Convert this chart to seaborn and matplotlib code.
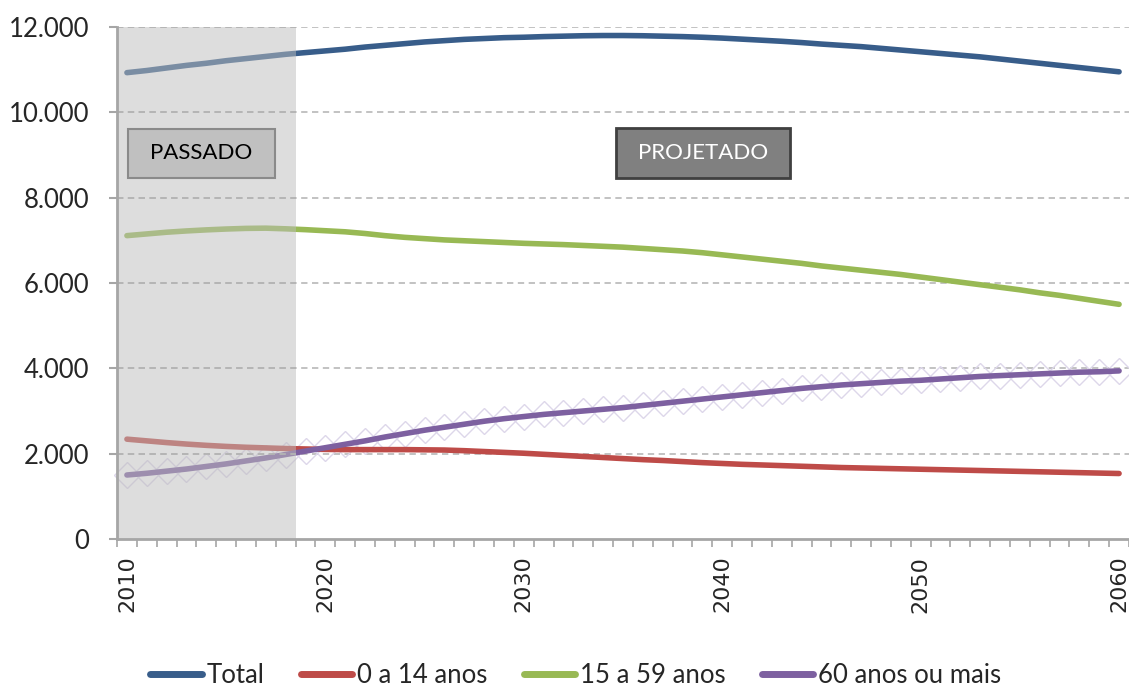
import numpy as np
import pandas as pd
import matplotlib
matplotlib.use("Agg")
import matplotlib.pyplot as plt
from matplotlib.patches import Rectangle
from matplotlib.ticker import FuncFormatter, FixedLocator
from matplotlib.lines import Line2D
import seaborn as sns

# ---------------- data ----------------
years = list(range(2010, 2061))

total = [10930, 10980, 11040, 11100, 11150, 11210, 11260, 11310, 11360, 11400,
         11440, 11480, 11530, 11570, 11610, 11650, 11680, 11710, 11730, 11750,
         11760, 11775, 11785, 11795, 11800, 11800, 11795, 11785, 11775, 11760,
         11740, 11715, 11690, 11665, 11635, 11600, 11570, 11540, 11500, 11460,
         11420, 11380, 11340, 11300, 11250, 11200, 11150, 11100, 11050, 11000,
         10950]

age_0_14 = [2340, 2300, 2260, 2225, 2195, 2170, 2150, 2135, 2120, 2110,
            2100, 2095, 2095, 2095, 2095, 2090, 2085, 2070, 2050, 2030,
            2010, 1985, 1960, 1935, 1910, 1885, 1860, 1840, 1815, 1790,
            1770, 1750, 1735, 1720, 1705, 1690, 1675, 1665, 1655, 1645,
            1635, 1625, 1615, 1605, 1595, 1585, 1575, 1565, 1555, 1545,
            1535]

age_15_59 = [7110, 7150, 7190, 7220, 7245, 7265, 7280, 7285, 7270, 7250,
             7225, 7200, 7160, 7110, 7070, 7040, 7010, 6990, 6970, 6950,
             6930, 6915, 6900, 6880, 6860, 6840, 6810, 6780, 6750, 6710,
             6660, 6610, 6560, 6510, 6460, 6400, 6350, 6300, 6250, 6200,
             6140, 6080, 6020, 5960, 5900, 5840, 5770, 5710, 5640, 5570,
             5500]

age_60_plus = [1500, 1540, 1590, 1640, 1700, 1760, 1830, 1900, 1980, 2060,
               2140, 2220, 2300, 2390, 2470, 2550, 2620, 2690, 2760, 2820,
               2870, 2920, 2960, 3000, 3040, 3080, 3130, 3180, 3230, 3280,
               3330, 3380, 3430, 3480, 3530, 3570, 3610, 3640, 3670, 3700,
               3720, 3750, 3780, 3810, 3830, 3850, 3870, 3890, 3910, 3920,
               3940]

series_names = ["Total", "0 a 14 anos", "15 a 59 anos", "60 anos ou mais"]
series_colors = ["#385D8A", "#BE4B48", "#98B954", "#7D60A0"]
x_tick_labels = ["2010", "2020", "2030", "2040", "2050", "2060"]
y_ticks = [0, 2000, 4000, 6000, 8000, 10000, 12000]
past_end_year = 2018
label_past = "PASSADO"
label_proj = "PROJETADO"

df = pd.DataFrame({
    "Ano": years * 4,
    "Valor": total + age_0_14 + age_15_59 + age_60_plus,
    "Serie": sum([[n] * len(years) for n in series_names], []),
})

# ---------------- style ----------------
sns.set_theme(style="white")
plt.rcParams["font.family"] = ["Lato", "DejaVu Sans"]

fig = plt.figure(figsize=(11.29, 6.86), dpi=100)
ax = fig.add_axes([117 / 1129, 147 / 686, 1012 / 1129, 512 / 686])

# faint diamond series behind the 60+ line
ax.plot(years, age_60_plus, linestyle="none", marker="D", ms=13,
        mfc="none", mec="#ddd7ea", mew=1.0, zorder=1.2, clip_on=False)

sns.lineplot(data=df, x="Ano", y="Valor", hue="Serie", hue_order=series_names,
             palette=series_colors, linewidth=4.0, ax=ax, legend=False,
             solid_capstyle="round", zorder=2)

ax.set_xlim(2009.5, 2060.5)
ax.set_ylim(0, 12000)

# background grid
for yv in y_ticks[1:]:
    ax.axhline(yv, color="#bdbdbd", lw=1.3, ls=(0, (3.5, 2.5)), zorder=0.5)

# shaded "past" region (over the lines, lightening them)
ax.axvspan(2009.5, past_end_year + 0.5, color="#bdbdbd", alpha=0.5, lw=0, zorder=3)
frac = (past_end_year + 0.5 - 2009.5) / 51
for yv in y_ticks[1:]:
    ax.axhline(yv, xmin=0, xmax=frac, color="#b4b4b4", lw=1.3,
               ls=(0, (3.5, 2.5)), zorder=3.2)

# boxes
ax.add_patch(Rectangle((0.0109, 0.705), 0.1452, 0.096, transform=ax.transAxes,
                       facecolor="#c0c0c0", edgecolor="#8a8a8a", lw=1.5, zorder=4))
ax.text(0.0835, 0.753, label_past, transform=ax.transAxes, ha="center",
        va="center", fontsize=16, color="black", zorder=5)
ax.add_patch(Rectangle((0.4931, 0.705), 0.1719, 0.098, transform=ax.transAxes,
                       facecolor="#808080", edgecolor="#404040", lw=2, zorder=4))
ax.text(0.579, 0.754, label_proj, transform=ax.transAxes, ha="center",
        va="center", fontsize=16, color="white", zorder=5)

# axes styling
for s in ["top", "right"]:
    ax.spines[s].set_visible(False)
for s in ["left", "bottom"]:
    ax.spines[s].set_color("#a6a6a6")
    ax.spines[s].set_linewidth(2)
    ax.spines[s].set_zorder(6)

ax.yaxis.set_major_locator(FixedLocator(y_ticks))
ax.yaxis.set_major_formatter(FuncFormatter(lambda v, p: f"{int(v):,}".replace(",", ".")))
ax.tick_params(axis="y", which="major", direction="out", length=6, width=1.5,
               color="#a6a6a6", labelsize=18.5, pad=14, left=True)

ax.xaxis.set_major_locator(FixedLocator([int(t) for t in x_tick_labels]))
ax.set_xticklabels(x_tick_labels, rotation=90, fontsize=16,
                   family=["DejaVu Sans"])
ax.xaxis.set_minor_locator(FixedLocator([2009.5 + k for k in range(52)]))
ax.tick_params(axis="x", which="major", length=0, pad=12, bottom=True)
ax.tick_params(axis="x", which="minor", direction="out", length=6, width=1.2,
               color="#a6a6a6", bottom=True)
for lab in ax.get_xticklabels():
    lab.set_va("top")
ax.set_xlabel("")
ax.set_ylabel("")

handles = [Line2D([0], [0], color=c, lw=5) for c in series_colors]
fig.legend(handles, series_names, loc="center", bbox_to_anchor=(0.51, 0.016),
           ncol=4, frameon=False, fontsize=18.5, handlelength=2.0,
           handletextpad=0.2, columnspacing=1.4)

fig.savefig("out.png", dpi=100)
